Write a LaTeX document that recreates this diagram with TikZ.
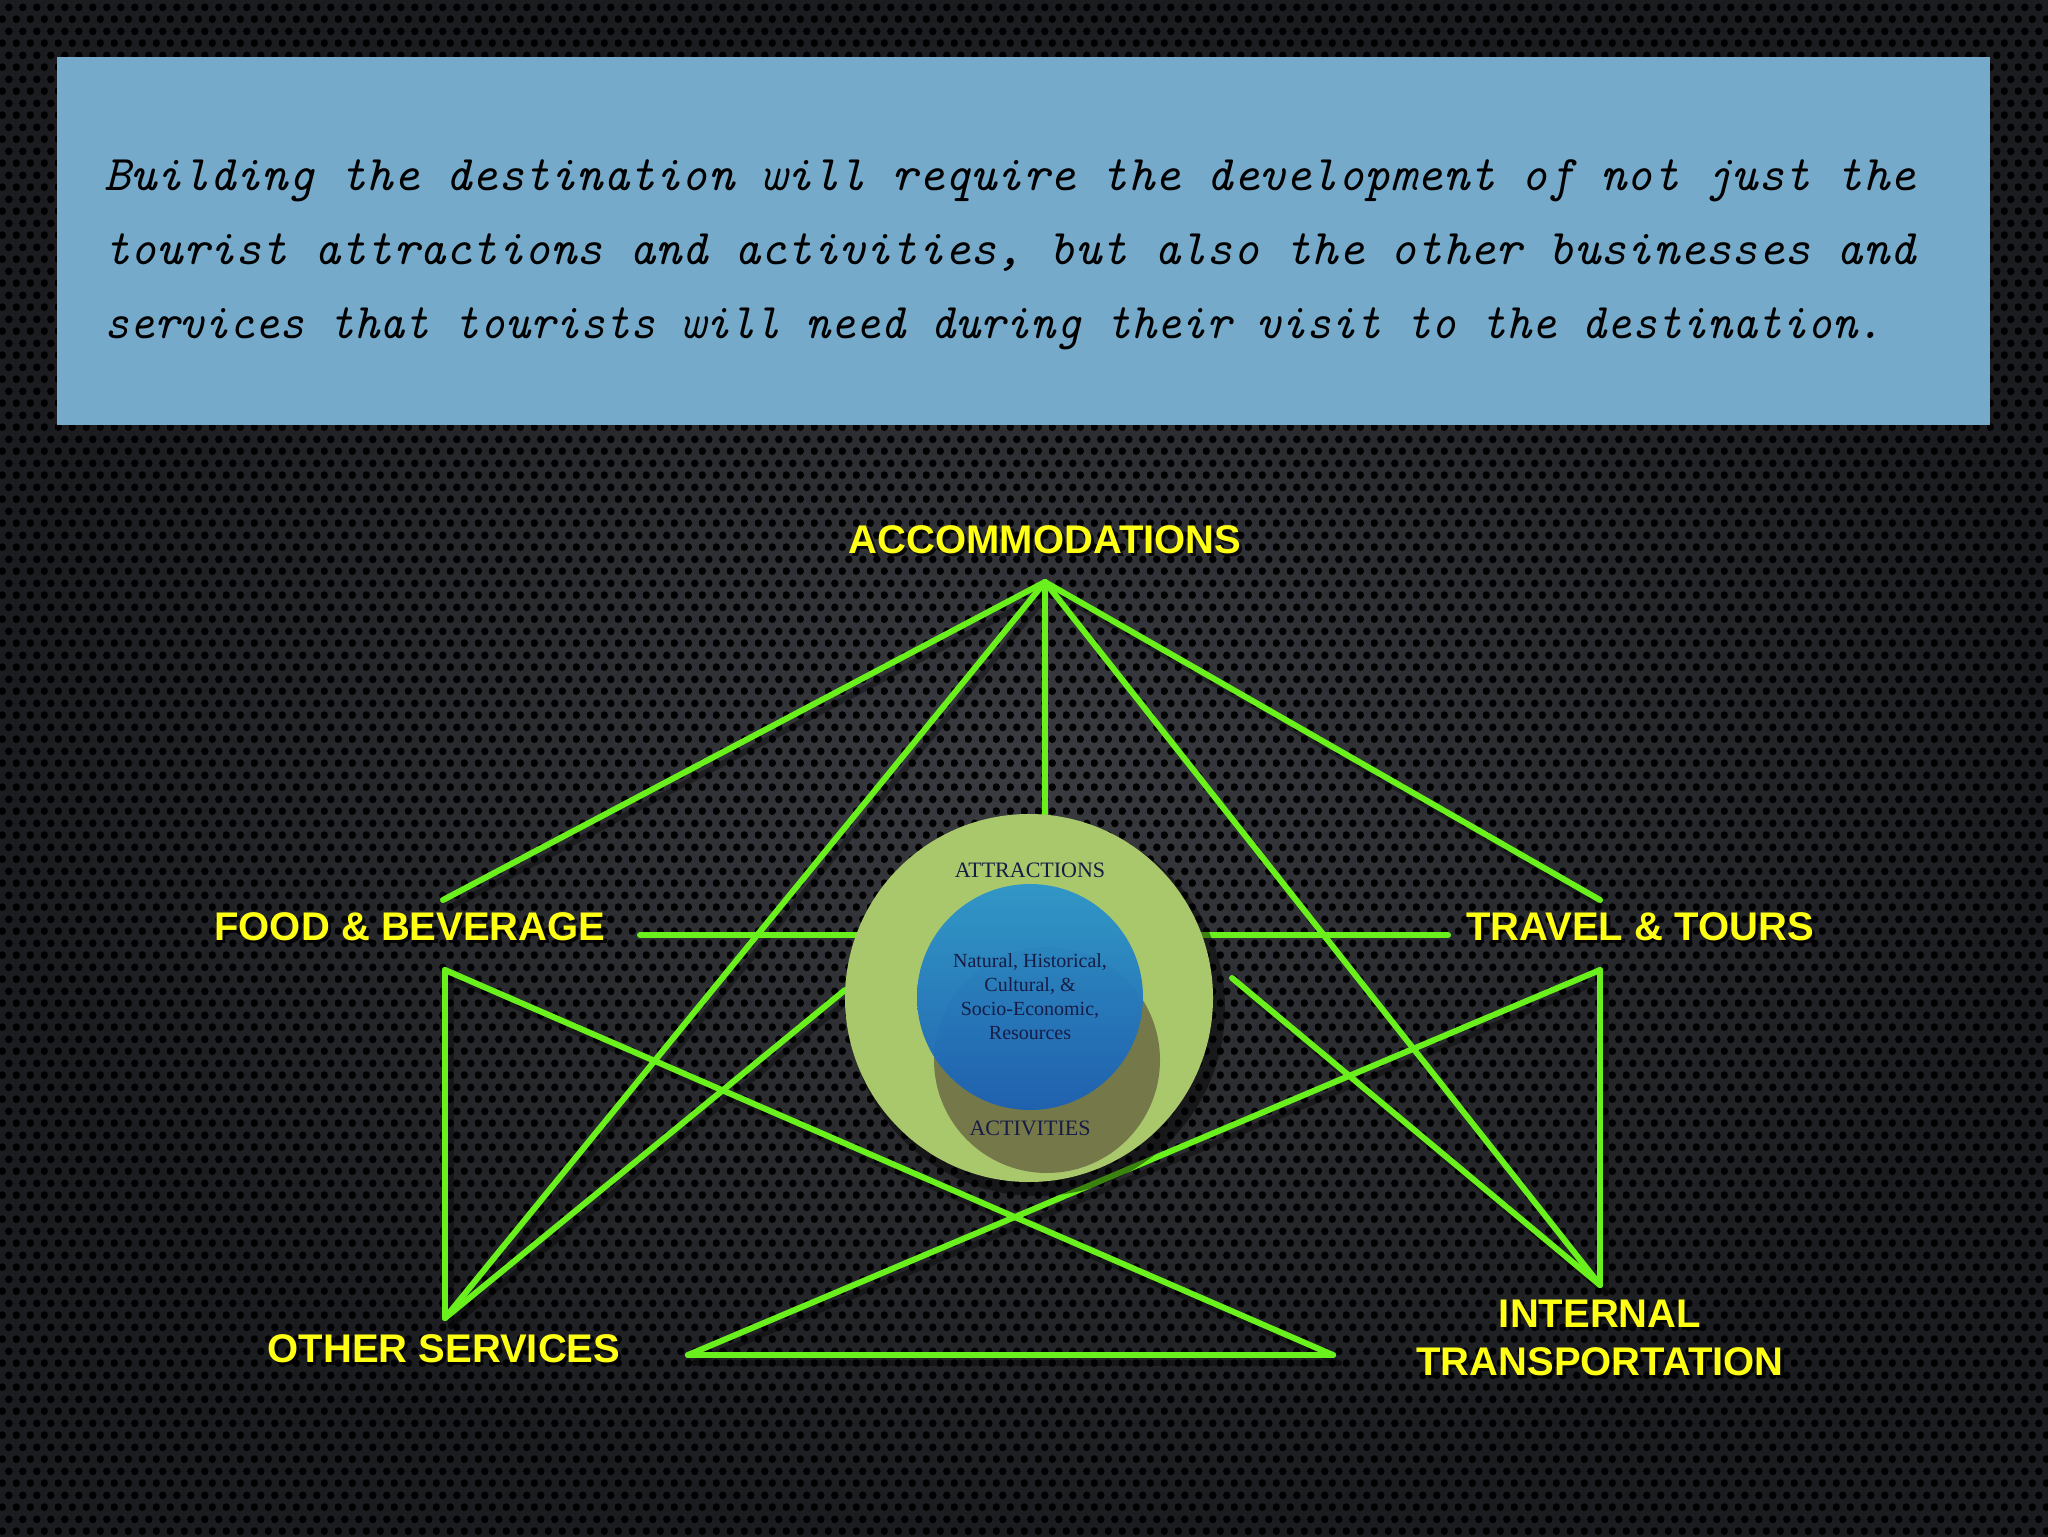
\documentclass[tikz,border=0pt]{standalone}
\usepackage{fontspec}
\setmainfont{Liberation Serif}
\newfontfamily\labfont{Liberation Sans}
\usetikzlibrary{patterns}
\definecolor{bgin}{HTML}{3A3B40}
\definecolor{bgout}{HTML}{1B1C1F}
\definecolor{hdrc}{HTML}{76AACB}
\definecolor{lime}{HTML}{6AF01C}
\definecolor{ylw}{HTML}{FFFF14}
\definecolor{outerc}{HTML}{A9C86C}
\definecolor{olivec}{HTML}{75794A}
\definecolor{bluetop}{HTML}{2B95CB}
\definecolor{bluebot}{HTML}{1C60B4}
\definecolor{navy}{HTML}{161C45}
\pgfdeclarepatternformonly{holes}{\pgfqpoint{0pt}{0pt}}{\pgfqpoint{7pt}{12.12pt}}{\pgfqpoint{7pt}{12.12pt}}{%
  \pgfpathcircle{\pgfqpoint{1.75pt}{3.03pt}}{2pt}%
  \pgfpathcircle{\pgfqpoint{5.25pt}{9.09pt}}{2pt}%
  \pgfusepath{fill}}
\newcommand\ylabel[4]{%
  \node[lblshadow,#3,xshift=1.6pt,yshift=-1.6pt] (#1s) at (#2) {#4};
  \node[lbl,#3] (#1) at (#2) {#4};}
\begin{document}
\begin{tikzpicture}[x=0.5pt,y=-0.5pt,
  conn/.style={draw=lime, line width=3pt, line cap=round, line join=round},
  connshadow/.style={draw=black, line width=3pt, line cap=round, opacity=0.35},
  lbl/.style={font=\labfont\bfseries\fontsize{20}{24}\selectfont, text=ylw, inner sep=0pt},
  lblshadow/.style={font=\labfont\bfseries\fontsize{20}{24}\selectfont, text=black, text opacity=0.8, inner sep=0pt},
  hdrtext/.style={font=\ttfamily\itshape\fontsize{25}{37}\selectfont, text=black, inner sep=0pt, anchor=base west},
  ctext/.style={font=\fontsize{11}{13}\selectfont, text=navy, inner sep=0pt, anchor=base},
  ]
% background
\shade[inner color=bgin, outer color=bgout] (0,0) rectangle (2048,1536);
\fill[pattern=holes, pattern color=black] (0,0) rectangle (2048,1536);
\useasboundingbox (0,0) rectangle (2048,1536);

% header
\fill[hdrc] (57,57) rectangle (1990,425);
\node[hdrtext] (h1) at (104,190) {Building the destination will require the development of not just the};
\node[hdrtext] (h2) at (104,264) {tourist attractions and activities, but also the other businesses and};
\node[hdrtext] (h3) at (104,338) {\scalebox{0.954}[1]{services that tourists will need during their visit to the destination.}};

% hub position (for line ends)
\coordinate (hubc) at (1029,998);
% vertices
\coordinate (apex) at (1045,582);
\coordinate (fbTop) at (443,900);
\coordinate (fbBot) at (445,970);
\coordinate (os) at (445,1318);
\coordinate (ttTop) at (1600,900);
\coordinate (ttBot) at (1600,970);
\coordinate (itV) at (1600,1285);
\coordinate (bl) at (688,1355);
\coordinate (br) at (1333,1355);
\coordinate (fbR) at (640,935);
\coordinate (ttL) at (1448,935);
\coordinate (cLo) at (845,990);
\coordinate (cRo) at (1232,978);

% connector shadows
\begin{scope}[transform canvas={shift={(3pt,-4pt)}}]
\draw[connshadow] (apex) -- (fbTop);
\draw[connshadow] (apex) -- (os);
\draw[connshadow] (apex) -- (itV);
\draw[connshadow] (apex) -- (ttTop);
\draw[connshadow] (fbBot) -- (br);
\draw[connshadow] (bl) -- (ttBot);
\draw[connshadow] (os) -- (cLo);
\draw[connshadow] (cRo) -- (itV);
\draw[connshadow] (fbBot) -- (os);
\draw[connshadow] (ttBot) -- (itV);
\draw[connshadow] (bl) -- (br);
\end{scope}

% connectors
\draw[conn] (apex) -- (fbTop);
\draw[conn] (apex) -- (os);
\draw[conn] (apex) -- (apex |- hubc);
\draw[conn] (apex) -- (itV);
\draw[conn] (apex) -- (ttTop);
\draw[conn] (fbR) -- (fbR -| hubc);
\draw[conn] (ttL) -- (ttL -| hubc);
\draw[conn] (fbBot) -- (os);
\draw[conn] (fbBot) -- (br);
\draw[conn] (bl) -- (br);
\draw[conn] (bl) -- (ttBot);
\draw[conn] (ttBot) -- (itV);
\draw[conn] (os) -- (cLo);
\draw[conn] (cRo) -- (itV);

% hub circles
\node[circle, fill=black, opacity=0.45, minimum size=188pt, inner sep=0pt] (hubshadow) at (1037,1008) {};
\node[circle, fill=outerc, minimum size=184pt, inner sep=0pt] (hub) at (hubc) {};
\node[circle, fill=olivec, minimum size=113pt, inner sep=0pt] (act) at (1047,1060) {};
\shade[top color=bluetop, bottom color=bluebot, opacity=0.95] (1030,997) circle[radius=113];
\node[ctext] (attr) at (1030,877) {ATTRACTIONS};
\node[ctext] (acti) at (1030,1135) {ACTIVITIES};
\node[font=\fontsize{10}{12}\selectfont, text=navy, align=center, inner sep=0pt] (res) at (1030,997)
  {Natural, Historical,\\Cultural, \&\\Socio-Economic,\\Resources};

% labels
\ylabel{acc}{1045,553}{anchor=base}{ACCOMMODATIONS}
\ylabel{fb}{410,940}{anchor=base}{FOOD \& BEVERAGE}
\ylabel{tt}{1640,940}{anchor=base}{TRAVEL \& TOURS}
\ylabel{osl}{444,1362}{anchor=base}{OTHER SERVICES}
\ylabel{itl}{1600,1338}{align=center}{INTERNAL\\TRANSPORTATION}
\end{tikzpicture}
\end{document}
